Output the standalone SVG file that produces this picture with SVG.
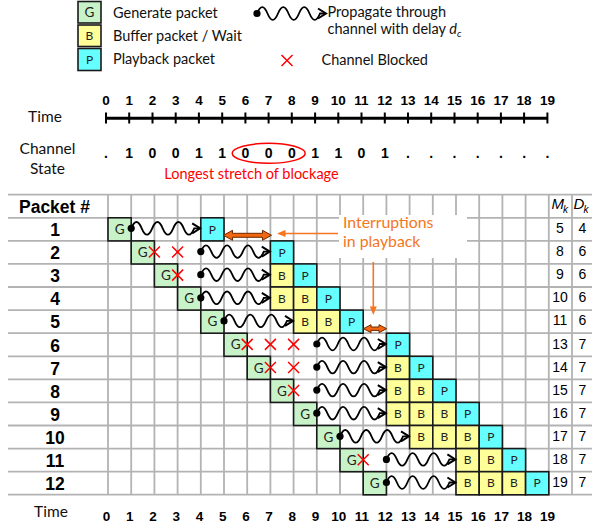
<svg xmlns="http://www.w3.org/2000/svg" xmlns:xlink="http://www.w3.org/1999/xlink" width="592" height="527" viewBox="0 0 592 527">
<style>
.grid line{stroke:#b3b3b3;stroke-width:1.8}
.box{stroke:#1a1a1a;stroke-width:1.6}
.g{fill:#c8f2c8}.b{fill:#ffff99}.p{fill:#66ffff}
.bl{font-family:Lato,"Open Sans",sans-serif;font-size:13.5px;fill:#222;text-anchor:middle}
.bs{font-family:Lato,"Open Sans",sans-serif;font-size:12px;fill:#222;text-anchor:middle}
.lg{font-family:Lato,"Open Sans",sans-serif;font-size:14.5px;fill:#111}
.lab{font-family:Lato,"Open Sans",sans-serif;font-size:15.5px;fill:#111}
.num{font-family:"Liberation Sans",Arial,sans-serif;font-weight:bold;font-size:13.5px;fill:#000;text-anchor:middle}
.row{font-family:"Liberation Sans",Arial,sans-serif;font-weight:bold;font-size:17.5px;fill:#000;text-anchor:middle}
.md{font-family:"Liberation Sans",Arial,sans-serif;font-size:14px;fill:#000;text-anchor:middle}
.x{stroke:#ff0000;stroke-width:1.5;fill:none}
.or{font-family:Lato,"Open Sans",sans-serif;font-size:15.8px;fill:#f47621}
.dbl{fill:#f26511;stroke:#6b2a00;stroke-width:1}
</style>
<defs>
<g id="wave">
<circle cx="0" cy="0" r="3.6" fill="#000"/>
<path d="M0,0 q5.25,-12.6 10.5,0 t10.5,0 t10.5,0 t10.5,0 t10.5,0 t10.5,0 L68,0" fill="none" stroke="#000" stroke-width="1.8"/>
<path d="M61,-5 L69,0 L61,5" fill="none" stroke="#000" stroke-width="2"/>
</g>
<g id="xm"><path class="x" d="M-5.5,-5.5 L5.5,5.5 M-5.5,5.5 L5.5,-5.5"/></g>
</defs>

<!-- Legend -->
<g id="legend">
<rect class="box g" x="78" y="1.5" width="23" height="21.5"/>
<text class="bl" x="89.5" y="17">G</text>
<rect class="box b" x="78" y="25" width="23" height="21.5"/>
<text class="bs" x="89.5" y="40">B</text>
<rect class="box p" x="78" y="48.5" width="23" height="22"/>
<text class="bs" x="89.5" y="64">P</text>
<text class="lg" x="113" y="17.5">Generate packet</text>
<text class="lg" x="113" y="40.5">Buffer packet / Wait</text>
<text class="lg" x="113" y="64">Playback packet</text>
<use xlink:href="#wave" transform="translate(257,13.5)"/>
<text class="lg" x="327.5" y="17">Propagate through</text>
<text class="lg" x="327.5" y="33.5">channel with delay <tspan font-style="italic">d</tspan><tspan font-size="10" dy="3.5" font-style="italic">c</tspan></text>
<use xlink:href="#xm" transform="translate(287,60.5)"/>
<text class="lg" x="321.5" y="64.5">Channel Blocked</text>
</g>

<!-- Time axis -->
<g id="timeaxis">
<text class="lab" x="45" y="122" text-anchor="middle">Time</text>
<line x1="106" y1="118.3" x2="547.4" y2="118.3" stroke="#000" stroke-width="3"/>
<path d="M106,112.5V123.5 M129.2,112.5V123.5 M152.5,112.5V123.5 M175.7,112.5V123.5 M198.9,112.5V123.5 M222.2,112.5V123.5 M245.4,112.5V123.5 M268.6,112.5V123.5 M291.8,112.5V123.5 M315.1,112.5V123.5 M338.3,112.5V123.5 M361.5,112.5V123.5 M384.8,112.5V123.5 M408,112.5V123.5 M431.2,112.5V123.5 M454.5,112.5V123.5 M477.7,112.5V123.5 M500.9,112.5V123.5 M524.1,112.5V123.5 M547.4,112.5V123.5" stroke="#000" stroke-width="2"/>
<g class="num">
<text x="106" y="105">0</text><text x="129.2" y="105">1</text><text x="152.5" y="105">2</text><text x="175.7" y="105">3</text><text x="198.9" y="105">4</text><text x="222.2" y="105">5</text><text x="245.4" y="105">6</text><text x="268.6" y="105">7</text><text x="291.8" y="105">8</text><text x="315.1" y="105">9</text><text x="338.3" y="105">10</text><text x="361.5" y="105">11</text><text x="384.8" y="105">12</text><text x="408" y="105">13</text><text x="431.2" y="105">14</text><text x="454.5" y="105">15</text><text x="477.7" y="105">16</text><text x="500.9" y="105">17</text><text x="524.1" y="105">18</text><text x="547.4" y="105">19</text>
</g>
</g>

<!-- Channel state -->
<g id="channel">
<text class="lab" x="47.5" y="153.5" text-anchor="middle">Channel</text>
<text class="lab" x="47.5" y="173.5" text-anchor="middle">State</text>
<g class="num" style="font-size:14px">
<text x="106" y="157.5">.</text><text x="129.2" y="157.5">1</text><text x="152.5" y="157.5">0</text><text x="175.7" y="157.5">0</text><text x="198.9" y="157.5">1</text><text x="222.2" y="157.5">1</text><text x="245.4" y="157.5">0</text><text x="268.6" y="157.5">0</text><text x="291.8" y="157.5">0</text><text x="315.1" y="157.5">1</text><text x="338.3" y="157.5">1</text><text x="361.5" y="157.5">0</text><text x="384.8" y="157.5">1</text><text x="408" y="157.5">.</text><text x="431.2" y="157.5">.</text><text x="454.5" y="157.5">.</text><text x="477.7" y="157.5">.</text><text x="500.9" y="157.5">.</text><text x="524.1" y="157.5">.</text><text x="547.4" y="157.5">.</text>
</g>
<ellipse cx="268.7" cy="153.3" rx="36.5" ry="10" fill="none" stroke="#ff0000" stroke-width="1.5"/>
<text x="251.5" y="179" text-anchor="middle" style="font-family:Lato,'Open Sans',sans-serif;font-size:14.5px;fill:#ff0000">Longest stretch of blockage</text>
</g>

<!-- Grid -->
<g id="grid" class="grid">
<line x1="8" y1="194.7" x2="592" y2="194.7"/><line x1="8" y1="217.8" x2="592" y2="217.8"/><line x1="8" y1="240.9" x2="592" y2="240.9"/><line x1="8" y1="263.9" x2="592" y2="263.9"/><line x1="8" y1="287" x2="592" y2="287"/><line x1="8" y1="310.1" x2="592" y2="310.1"/><line x1="8" y1="333.2" x2="592" y2="333.2"/><line x1="8" y1="356.3" x2="592" y2="356.3"/><line x1="8" y1="379.3" x2="592" y2="379.3"/><line x1="8" y1="402.4" x2="592" y2="402.4"/><line x1="8" y1="425.5" x2="592" y2="425.5"/><line x1="8" y1="448.6" x2="592" y2="448.6"/><line x1="8" y1="471.7" x2="592" y2="471.7"/><line x1="8" y1="494.7" x2="592" y2="494.7"/>
<line x1="108" y1="194.7" x2="108" y2="494.7"/><line x1="131.2" y1="194.7" x2="131.2" y2="494.7"/><line x1="154.4" y1="194.7" x2="154.4" y2="494.7"/><line x1="177.6" y1="194.7" x2="177.6" y2="494.7"/><line x1="200.8" y1="194.7" x2="200.8" y2="494.7"/><line x1="224" y1="194.7" x2="224" y2="494.7"/><line x1="247.2" y1="194.7" x2="247.2" y2="494.7"/><line x1="270.4" y1="194.7" x2="270.4" y2="494.7"/><line x1="293.6" y1="194.7" x2="293.6" y2="494.7"/><line x1="316.8" y1="194.7" x2="316.8" y2="494.7"/><line x1="340" y1="194.7" x2="340" y2="494.7"/><line x1="363.2" y1="194.7" x2="363.2" y2="494.7"/><line x1="386.4" y1="194.7" x2="386.4" y2="494.7"/><line x1="409.6" y1="194.7" x2="409.6" y2="494.7"/><line x1="432.8" y1="194.7" x2="432.8" y2="494.7"/><line x1="456" y1="194.7" x2="456" y2="494.7"/><line x1="479.2" y1="194.7" x2="479.2" y2="494.7"/><line x1="502.4" y1="194.7" x2="502.4" y2="494.7"/><line x1="525.6" y1="194.7" x2="525.6" y2="494.7"/><line x1="548.8" y1="194.7" x2="548.8" y2="494.7"/><line x1="572" y1="194.7" x2="572" y2="494.7"/>
</g>
<rect x="339" y="215" width="128" height="43" fill="#fff"/>

<!-- Row labels -->
<g id="rowlabels" class="row">
<text x="54.5" y="212.5">Packet #</text>
<text x="55" y="236">1</text><text x="55" y="259.1">2</text><text x="55" y="282.2">3</text><text x="55" y="305.3">4</text><text x="55" y="328.4">5</text><text x="55" y="351.5">6</text><text x="55" y="374.5">7</text><text x="55" y="397.6">8</text><text x="55" y="420.7">9</text><text x="55" y="443.8">10</text><text x="55" y="466.9">11</text><text x="55" y="490">12</text>
</g>

<!-- M_k, D_k -->
<g id="mdcols" class="md">
<text x="551.5" y="208.5" text-anchor="start" font-style="italic" font-size="15">M</text><text x="563" y="212.5" text-anchor="start" font-style="italic" font-size="10">k</text>
<text x="573.5" y="208.5" text-anchor="start" font-style="italic" font-size="15">D</text><text x="583.5" y="212.5" text-anchor="start" font-style="italic" font-size="10">k</text>
<text x="560" y="233">5</text><text x="582.5" y="233">4</text>
<text x="560" y="256.1">8</text><text x="582.5" y="256.1">6</text>
<text x="560" y="279.2">9</text><text x="582.5" y="279.2">6</text>
<text x="560" y="302.3">10</text><text x="582.5" y="302.3">6</text>
<text x="560" y="325.4">11</text><text x="582.5" y="325.4">6</text>
<text x="560" y="348.5">13</text><text x="582.5" y="348.5">7</text>
<text x="560" y="371.5">14</text><text x="582.5" y="371.5">7</text>
<text x="560" y="394.6">15</text><text x="582.5" y="394.6">7</text>
<text x="560" y="417.7">16</text><text x="582.5" y="417.7">7</text>
<text x="560" y="440.8">17</text><text x="582.5" y="440.8">7</text>
<text x="560" y="463.9">18</text><text x="582.5" y="463.9">7</text>
<text x="560" y="487">19</text><text x="582.5" y="487">7</text>
</g>

<!-- Packets -->
<g id="pk1"><rect class="box g" x="108" y="217.8" width="23.2" height="23.1"/><text class="bl" x="119.6" y="234">G</text>
<rect class="box p" x="200.8" y="217.8" width="23.2" height="23.1"/><text class="bs" x="212.4" y="233.5">P</text></g>
<g id="pk2"><rect class="box g" x="131.2" y="240.9" width="23.2" height="23.1"/><text class="bl" x="142.8" y="257.1">G</text>
<rect class="box p" x="270.4" y="240.9" width="23.2" height="23.1"/><text class="bs" x="282" y="256.6">P</text></g>
<g id="pk3"><rect class="box g" x="154.4" y="263.9" width="23.2" height="23.1"/><text class="bl" x="166" y="280.1">G</text>
<rect class="box b" x="270.4" y="263.9" width="23.2" height="23.1"/><text class="bs" x="282" y="279.6">B</text>
<rect class="box p" x="293.6" y="263.9" width="23.2" height="23.1"/><text class="bs" x="305.2" y="279.6">P</text></g>
<g id="pk4"><rect class="box g" x="177.6" y="287" width="23.2" height="23.1"/><text class="bl" x="189.2" y="303.2">G</text>
<rect class="box b" x="270.4" y="287" width="23.2" height="23.1"/><text class="bs" x="282" y="302.7">B</text>
<rect class="box b" x="293.6" y="287" width="23.2" height="23.1"/><text class="bs" x="305.2" y="302.7">B</text>
<rect class="box p" x="316.8" y="287" width="23.2" height="23.1"/><text class="bs" x="328.4" y="302.7">P</text></g>
<g id="pk5"><rect class="box g" x="200.8" y="310.1" width="23.2" height="23.1"/><text class="bl" x="212.4" y="326.3">G</text>
<rect class="box b" x="293.6" y="310.1" width="23.2" height="23.1"/><text class="bs" x="305.2" y="325.8">B</text>
<rect class="box b" x="316.8" y="310.1" width="23.2" height="23.1"/><text class="bs" x="328.4" y="325.8">B</text>
<rect class="box p" x="340" y="310.1" width="23.2" height="23.1"/><text class="bs" x="351.6" y="325.8">P</text></g>
<g id="pk6"><rect class="box g" x="224" y="333.2" width="23.2" height="23.1"/><text class="bl" x="235.6" y="349.4">G</text>
<rect class="box p" x="386.4" y="333.2" width="23.2" height="23.1"/><text class="bs" x="398" y="348.9">P</text></g>
<g id="pk7"><rect class="box g" x="247.2" y="356.3" width="23.2" height="23.1"/><text class="bl" x="258.8" y="372.5">G</text>
<rect class="box b" x="386.4" y="356.3" width="23.2" height="23.1"/><text class="bs" x="398" y="372">B</text>
<rect class="box p" x="409.6" y="356.3" width="23.2" height="23.1"/><text class="bs" x="421.2" y="372">P</text></g>
<g id="pk8"><rect class="box g" x="270.4" y="379.3" width="23.2" height="23.1"/><text class="bl" x="282" y="395.5">G</text>
<rect class="box b" x="386.4" y="379.3" width="23.2" height="23.1"/><text class="bs" x="398" y="395">B</text>
<rect class="box b" x="409.6" y="379.3" width="23.2" height="23.1"/><text class="bs" x="421.2" y="395">B</text>
<rect class="box p" x="432.8" y="379.3" width="23.2" height="23.1"/><text class="bs" x="444.4" y="395">P</text></g>
<g id="pk9"><rect class="box g" x="293.6" y="402.4" width="23.2" height="23.1"/><text class="bl" x="305.2" y="418.6">G</text>
<rect class="box b" x="386.4" y="402.4" width="23.2" height="23.1"/><text class="bs" x="398" y="418.1">B</text>
<rect class="box b" x="409.6" y="402.4" width="23.2" height="23.1"/><text class="bs" x="421.2" y="418.1">B</text>
<rect class="box b" x="432.8" y="402.4" width="23.2" height="23.1"/><text class="bs" x="444.4" y="418.1">B</text>
<rect class="box p" x="456" y="402.4" width="23.2" height="23.1"/><text class="bs" x="467.6" y="418.1">P</text></g>
<g id="pk10"><rect class="box g" x="316.8" y="425.5" width="23.2" height="23.1"/><text class="bl" x="328.4" y="441.7">G</text>
<rect class="box b" x="409.6" y="425.5" width="23.2" height="23.1"/><text class="bs" x="421.2" y="441.2">B</text>
<rect class="box b" x="432.8" y="425.5" width="23.2" height="23.1"/><text class="bs" x="444.4" y="441.2">B</text>
<rect class="box b" x="456" y="425.5" width="23.2" height="23.1"/><text class="bs" x="467.6" y="441.2">B</text>
<rect class="box p" x="479.2" y="425.5" width="23.2" height="23.1"/><text class="bs" x="490.8" y="441.2">P</text></g>
<g id="pk11"><rect class="box g" x="340" y="448.6" width="23.2" height="23.1"/><text class="bl" x="351.6" y="464.8">G</text>
<rect class="box b" x="456" y="448.6" width="23.2" height="23.1"/><text class="bs" x="467.6" y="464.3">B</text>
<rect class="box b" x="479.2" y="448.6" width="23.2" height="23.1"/><text class="bs" x="490.8" y="464.3">B</text>
<rect class="box p" x="502.4" y="448.6" width="23.2" height="23.1"/><text class="bs" x="514" y="464.3">P</text></g>
<g id="pk12"><rect class="box g" x="363.2" y="471.7" width="23.2" height="23.1"/><text class="bl" x="374.8" y="487.9">G</text>
<rect class="box b" x="456" y="471.7" width="23.2" height="23.1"/><text class="bs" x="467.6" y="487.4">B</text>
<rect class="box b" x="479.2" y="471.7" width="23.2" height="23.1"/><text class="bs" x="490.8" y="487.4">B</text>
<rect class="box b" x="502.4" y="471.7" width="23.2" height="23.1"/><text class="bs" x="514" y="487.4">B</text>
<rect class="box p" x="525.6" y="471.7" width="23.2" height="23.1"/><text class="bs" x="537.2" y="487.4">P</text></g>

<!-- Connectors -->
<g id="connectors">
<use xlink:href="#wave" transform="translate(131.2,228.3)"/>
<use xlink:href="#wave" transform="translate(200.8,251.6)"/>
<use xlink:href="#wave" transform="translate(200.8,274.7)"/>
<use xlink:href="#wave" transform="translate(200.8,297.8)"/>
<use xlink:href="#wave" transform="translate(224,320.9)"/>
<use xlink:href="#wave" transform="translate(316.8,344)"/>
<use xlink:href="#wave" transform="translate(316.8,367.1)"/>
<use xlink:href="#wave" transform="translate(316.8,390.1)"/>
<use xlink:href="#wave" transform="translate(316.8,413.2)"/>
<use xlink:href="#wave" transform="translate(340,436.3)"/>
<use xlink:href="#wave" transform="translate(386.4,459.4)"/>
<use xlink:href="#wave" transform="translate(386.4,482.5)"/>
</g>

<!-- Blocked marks -->
<g id="blocked">
<use xlink:href="#xm" transform="translate(154.4,252)"/>
<use xlink:href="#xm" transform="translate(177.6,252)"/>
<use xlink:href="#xm" transform="translate(177.6,275.1)"/>
<use xlink:href="#xm" transform="translate(247.2,344.4)"/>
<use xlink:href="#xm" transform="translate(270.4,344.4)"/>
<use xlink:href="#xm" transform="translate(293.6,344.4)"/>
<use xlink:href="#xm" transform="translate(270.4,367.5)"/>
<use xlink:href="#xm" transform="translate(293.6,367.5)"/>
<use xlink:href="#xm" transform="translate(293.6,390.5)"/>
<use xlink:href="#xm" transform="translate(363.2,459.8)"/>
</g>

<!-- Interruptions annotation -->
<g id="interruptions">
<path class="dbl" d="M223.5,235.3 L232.5,230.3 L232.5,233.3 L262.5,233.3 L262.5,230.3 L271.5,235.3 L262.5,240.3 L262.5,237.3 L232.5,237.3 L232.5,240.3 Z"/>
<path class="dbl" d="M363.5,328.7 L371,324.7 L371,327 L379,327 L379,324.7 L386.5,328.7 L379,332.7 L379,330.4 L371,330.4 L371,332.7 Z"/>
<line x1="338" y1="233.5" x2="284" y2="233.5" stroke="#f47621" stroke-width="1.6"/>
<path d="M277,233.5 L285.5,230 L285.5,237 Z" fill="#f47621"/>
<line x1="373.3" y1="262" x2="373.3" y2="308" stroke="#f47621" stroke-width="1.6"/>
<path d="M373.3,315 L369.8,306.5 L376.8,306.5 Z" fill="#f47621"/>
<text class="or" x="343" y="227.5">Interruptions</text>
<text class="or" x="343" y="247">in playback</text>
</g>

<!-- Bottom time labels -->
<g id="bottomtime">
<text class="lab" x="51" y="517" text-anchor="middle">Time</text>
<g class="num">
<text x="106.5" y="521">0</text><text x="129.7" y="521">1</text><text x="153" y="521">2</text><text x="176.2" y="521">3</text><text x="199.4" y="521">4</text><text x="222.7" y="521">5</text><text x="245.9" y="521">6</text><text x="269.1" y="521">7</text><text x="292.3" y="521">8</text><text x="315.6" y="521">9</text><text x="338.8" y="521">10</text><text x="362" y="521">11</text><text x="385.3" y="521">12</text><text x="408.5" y="521">13</text><text x="431.7" y="521">14</text><text x="455" y="521">15</text><text x="478.2" y="521">16</text><text x="501.4" y="521">17</text><text x="524.6" y="521">18</text><text x="547.4" y="521">19</text>
</g>
</g>
</svg>
